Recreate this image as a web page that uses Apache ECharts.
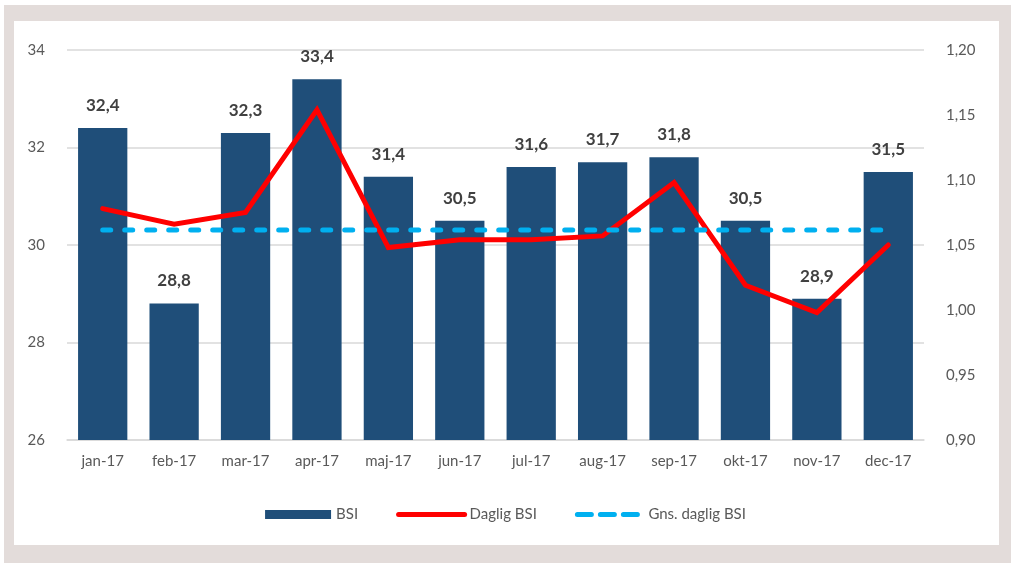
<!DOCTYPE html>
<html>
<head>
<meta charset="utf-8">
<script src="https://cdn.jsdelivr.net/npm/echarts@6/dist/echarts.min.js"></script>
<style>
  html, body { margin: 0; padding: 0; background: #fff; }
  #frame { position: absolute; left: 4px; top: 5px; width: 1007px; height: 558px; background: #e3dcda; }
  #panel { position: absolute; left: 14px; top: 21px; width: 985px; height: 524px; background: #fff; }
  #main { position: absolute; left: 0; top: 0; width: 1011px; height: 569px; }
</style>
</head>
<body>
<div id="frame"></div>
<div id="panel"></div>
<div id="main"></div>
<script>
const months = ['jan-17', 'feb-17', 'mar-17', 'apr-17', 'maj-17', 'jun-17',
                'jul-17', 'aug-17', 'sep-17', 'okt-17', 'nov-17', 'dec-17'];
const bsi = [32.4, 28.8, 32.3, 33.4, 31.4, 30.5, 31.6, 31.7, 31.8, 30.5, 28.9, 31.5];
const dagligBsi = [1.078, 1.066, 1.075, 1.154, 1.048, 1.054, 1.054, 1.057, 1.098, 1.019, 0.998, 1.050];
const gnsDagligBsi = 1.0615;
const gnsLine = months.map(function () { return gnsDagligBsi; });

const fontName = 'Lato';
const textGrey = '#595959';

let chart = echarts.init(document.getElementById('main'));

let option = {
    backgroundColor: 'transparent',
    animation: false,
    textStyle: { fontFamily: fontName },
    grid: {
        left: 67,
        right: 87,
        top: 50,
        bottom: 129
    },
    legend: {
        top: 502,
        left: 'center',
        itemWidth: 66,
        itemHeight: 9,
        itemGap: 38,
        textStyle: { color: textGrey, fontSize: 15, fontFamily: fontName },
        data: [
            { name: 'BSI', icon: 'rect' },
            { name: 'Daglig BSI', itemStyle: { opacity: 0 }, lineStyle: { width: 5, cap: 'round' } },
            { name: 'Gns. daglig BSI', itemStyle: { opacity: 0 }, lineStyle: { width: 5, cap: 'round', type: [14, 9] } }
        ]
    },
    xAxis: {
        type: 'category',
        data: months,
        axisLine: { lineStyle: { color: '#d9d9d9', width: 1.5 } },
        axisTick: { length: 6, lineStyle: { color: '#d9d9d9', width: 1.5 } },
        axisLabel: { color: textGrey, fontSize: 15, margin: 14, fontFamily: fontName }
    },
    yAxis: [{
        type: 'value',
        min: 26,
        max: 34,
        interval: 2,
        axisLine: { show: false },
        axisTick: { show: false },
        splitLine: { lineStyle: { color: '#d9d9d9', width: 1.5 } },
        axisLabel: { color: textGrey, fontSize: 15, margin: 22, fontFamily: fontName }
    }, {
        type: 'value',
        min: 0.90,
        max: 1.20,
        interval: 0.05,
        axisLine: { show: false },
        axisTick: { show: false },
        splitLine: { show: false },
        axisLabel: {
            color: textGrey,
            fontSize: 15,
            margin: 22,
            fontFamily: fontName,
            formatter: function (v) { return v.toFixed(2).replace('.', ','); }
        }
    }],
    series: [{
        name: 'BSI',
        type: 'bar',
        data: bsi,
        barWidth: '69%',
        itemStyle: { color: '#1f4e79' },
        label: {
            show: true,
            position: 'top',
            distance: 14,
            color: '#404040',
            fontSize: 17,
            fontWeight: 'bold',
            fontFamily: fontName,
            formatter: function (p) { return p.value.toFixed(1).replace('.', ','); }
        }
    }, {
        name: 'Daglig BSI',
        type: 'line',
        yAxisIndex: 1,
        data: dagligBsi,
        symbol: 'none',
        lineStyle: { color: '#ff0000', width: 5, cap: 'round', join: 'miter' },
        itemStyle: { color: '#ff0000' }
    }, {
        name: 'Gns. daglig BSI',
        type: 'line',
        yAxisIndex: 1,
        data: gnsLine,
        symbol: 'none',
        lineStyle: { color: '#00b0f0', width: 5, type: [8, 14], cap: 'round' },
        itemStyle: { color: '#00b0f0' }
    }]
};

chart.setOption(option);
</script>
</body>
</html>
